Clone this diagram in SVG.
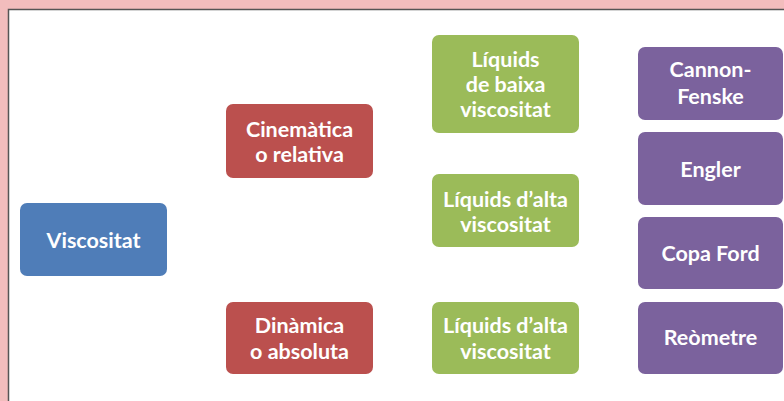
<svg xmlns="http://www.w3.org/2000/svg" width="784" height="401" viewBox="0 0 784 401">
<style>
.n{stroke:none}
.b{fill:#4f7db8}.r{fill:#bb504e}.g{fill:#9bbb59}.p{fill:#7b629d}
text{font-family:"Lato","Liberation Sans",sans-serif;font-weight:bold;font-size:21.5px;fill:#fff;text-anchor:middle}
</style>
<rect x="0" y="0" width="784" height="401" fill="#f2bdbd"/>
<rect x="8.5" y="9.5" width="790" height="400" fill="#fff" stroke="#555" stroke-width="1.5"/>
<g id="connectors"></g>
<g id="viscositat"><rect class="n b" x="20" y="203" width="147" height="73" rx="7"/><text x="93.5" y="248">Viscositat</text></g>
<g id="cinematica"><rect class="n r" x="226" y="104" width="147" height="74" rx="7"/><text x="299.5" y="137">Cinemàtica</text><text x="299.5" y="162">o relativa</text></g>
<g id="dinamica"><rect class="n r" x="226" y="302" width="147" height="72" rx="7"/><text x="299.5" y="333">Dinàmica</text><text x="299.5" y="359">o absoluta</text></g>
<g id="baixa"><rect class="n g" x="432" y="35" width="147" height="98" rx="7"/><text x="505.5" y="67">Líquids</text><text x="505.5" y="92">de baixa</text><text x="505.5" y="117">viscositat</text></g>
<g id="alta1"><rect class="n g" x="432" y="174" width="147" height="73" rx="7"/><text x="505.5" y="207">Líquids d’alta</text><text x="505.5" y="232">viscositat</text></g>
<g id="alta2"><rect class="n g" x="432" y="302" width="147" height="72" rx="7"/><text x="505.5" y="333">Líquids d’alta</text><text x="505.5" y="359">viscositat</text></g>
<g id="cannon"><rect class="n p" x="638" y="47" width="145" height="73" rx="7"/><text x="710.5" y="77">Cannon-</text><text x="710.5" y="104">Fenske</text></g>
<g id="engler"><rect class="n p" x="638" y="132" width="145" height="73" rx="7"/><text x="710.5" y="177">Engler</text></g>
<g id="copa"><rect class="n p" x="638" y="217" width="145" height="72" rx="7"/><text x="710.5" y="261">Copa Ford</text></g>
<g id="reometre"><rect class="n p" x="638" y="302" width="145" height="72" rx="7"/><text x="710.5" y="345">Reòmetre</text></g>
</svg>
